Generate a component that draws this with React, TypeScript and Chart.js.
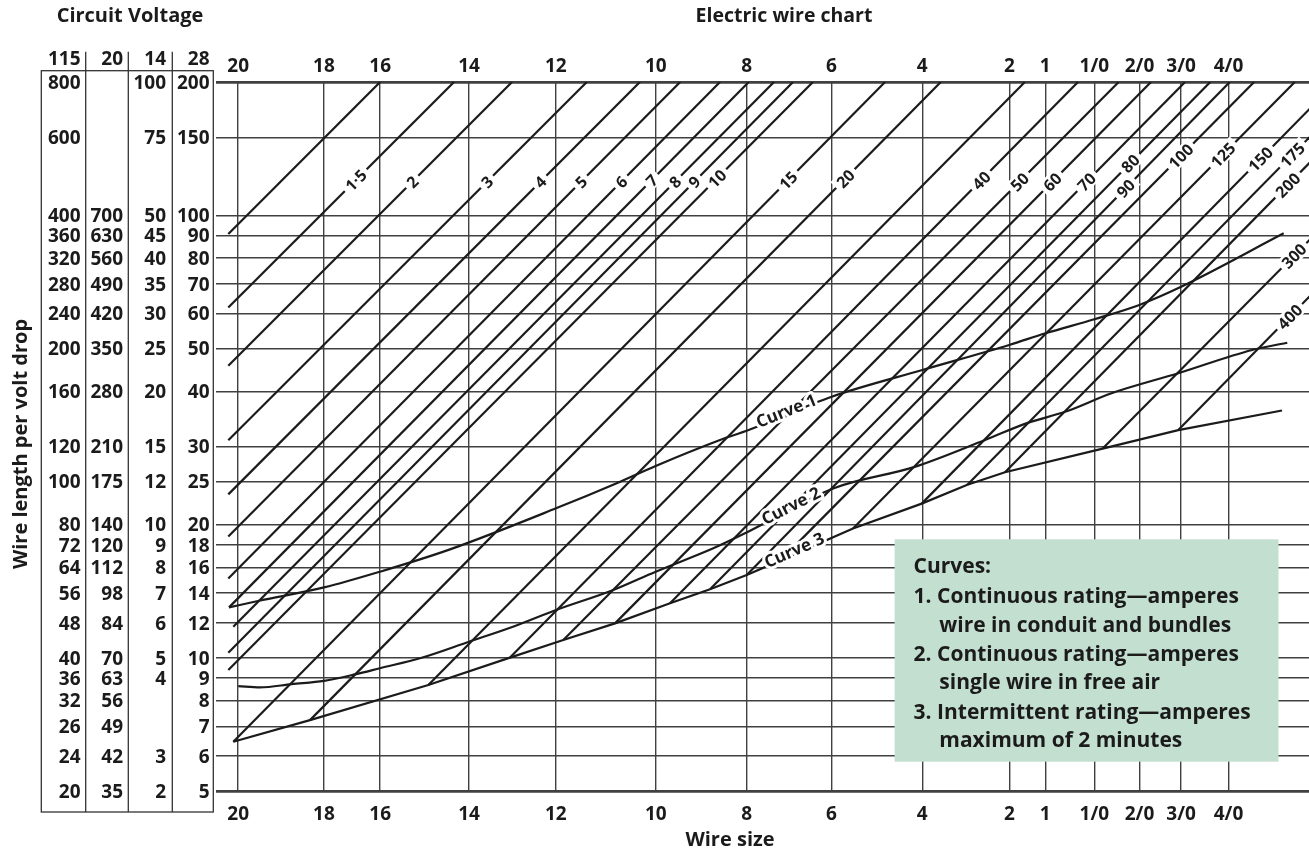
import React, { useEffect, useRef } from "react";
import { Chart, registerables } from "chart.js";

Chart.register(...registerables);

const FONT = '"Open Sans", "Noto Sans", "DejaVu Sans", sans-serif';
const INK = "#1b1b1b";
const GRID = "#404040";

// ---- axis data ----
const wireLabels = ["20", "18", "16", "14", "12", "10", "8", "6", "4", "2", "1", "1/0", "2/0", "3/0", "4/0"];
// relative conductance (centi-decades from #20)
const wirePositions = [0, 19.4, 32.1, 52.2, 71.8, 94.4, 114.9, 134.1, 154.6, 174.3, 182.4, 193.5, 203.7, 213.1, 223.8];

// wire length per volt drop, 28 V column (also y ticks)
const lengthTicks = [200, 150, 100, 90, 80, 70, 60, 50, 40, 30, 25, 20, 18, 16, 14, 12, 10, 9, 8, 7, 6, 5];
const volt115 = ["800", "600", "400", "360", "320", "280", "240", "200", "160", "120", "100", "80", "72", "64", "56", "48", "40", "36", "32", "26", "24", "20"];
const volt20 = ["", "", "700", "630", "560", "490", "420", "350", "280", "210", "175", "140", "120", "112", "98", "84", "70", "63", "56", "49", "42", "35"];
const volt14 = ["100", "75", "50", "45", "40", "35", "30", "25", "20", "15", "12", "10", "9", "8", "7", "6", "5", "4", "", "", "3", "2"];
const volt28 = lengthTicks.map(String);
const voltHeaders = ["115", "20", "14", "28"];

// ---- ampere lines ----
const ampLabels = ["", "1·5", "2", "3", "4", "5", "6", "7", "8", "9", "10", "15", "20", "", "40", "50", "60", "70", "80", "90", "100", "125", "150", "175", "200", "300", "400"];
const ampStartX = [-2.22, -2.22, -2.22, -2.22, -2.22, -2.22, -2.22, -2.06, -1.09, -2.22, -2.22, -1.09, 16.24, 42.98, 61.44, 73.48, 85.17, 97.6, 106.64, 114.93, 122.57, 138.95, 154.48, 164.8, 173.3, 195.38, 212.46];
const ampStartY = [90.7, 61.9, 45.7, 31.0, 23.4, 18.8, 15.1, 13.0, 11.75, 10.26, 9.38, 6.46, 7.23, 8.68, 10.01, 10.97, 11.96, 13.28, 14.28, 15.38, 16.6, 19.6, 22.3, 24.6, 26.25, 29.7, 32.7];
const ampTopX = [32.1, 48.8, 61.9, 78.8, 90.8, 99.9, 108.9, 115.4, 121.1, 125.4, 129.9, 146.2, 158.8, 177.8, 189.8, 199.0, 206.3, 214.0, 219.7, 224.1, 229.6, 238.8, 248.1, 254.4, 260.1, 277.5, 289.7];
const ampLabelY = [0, 120, 119, 119, 119, 119, 119, 120, 119, 119, 121, 120, 121, 0, 120, 119, 119, 119, 131, 115, 136, 137, 134, 137, 117, 81, 59];

// ---- rating curves ----
const curve1X = [-2.06, 4.49, 19.41, 32.06, 47.56, 71.83, 85.55, 94.36, 108.9, 115.36, 134.14, 154.63, 174.25, 182.43, 193.48, 203.65, 213.1, 236.28];
const curve1Y = [13.0, 13.44, 14.42, 15.65, 17.53, 21.76, 24.8, 27.13, 31.05, 32.7, 38.9, 44.7, 50.9, 54.1, 58.2, 62.7, 68.9, 91.0];
const curve2X = [0.04, 4.94, 12.11, 19.41, 26.41, 32.06, 41.48, 52.17, 62.57, 71.83, 84.78, 94.36, 107.38, 114.93, 134.61, 152.89, 168.78, 178.27, 187.04, 197.37, 212.46, 229.14, 237.09];
const curve2Y = [8.63, 8.57, 8.72, 8.87, 9.17, 9.47, 10.0, 10.87, 11.8, 12.82, 14.23, 15.65, 17.68, 19.2, 24.16, 27.0, 31.05, 33.9, 36.0, 39.6, 43.95, 49.6, 51.5];
const curve3X = [-1.09, 16.24, 42.98, 61.44, 73.48, 85.17, 97.6, 106.64, 114.93, 122.57, 138.95, 154.48, 164.8, 173.3, 195.38, 212.46, 235.9];
const curve3Y = [6.46, 7.23, 8.68, 10.01, 10.97, 11.96, 13.28, 14.28, 15.38, 16.6, 19.6, 22.3, 24.6, 26.25, 29.7, 32.7, 36.2];
const curveNames = ["Curve 1", "Curve 2", "Curve 3"];
const curveLabelX = [124.2, 125.3, 126.0];

const legendLines = [
  "Curves:",
  "1. Continuous rating—amperes",
  "wire in conduit and bundles",
  "2. Continuous rating—amperes",
  "single wire in free air",
  "3. Intermittent rating—amperes",
  "maximum of 2 minutes",
];
const legendIndent = [0, 0, 1, 0, 1, 0, 1];

function toPts(xs: number[], ys: number[]) {
  return xs.map((x, i) => ({ x, y: ys[i] }));
}

function onPolyline(chart: any, xs: number[], ys: number[], xv: number) {
  const sx = chart.scales.x;
  const sy = chart.scales.y;
  const px = xs.map((v) => sx.getPixelForValue(v));
  const py = ys.map((v) => sy.getPixelForValue(v));
  const tx = sx.getPixelForValue(xv);
  let i = 0;
  while (i < px.length - 2 && px[i + 1] < tx) i++;
  const t = (tx - px[i]) / (px[i + 1] - px[i]);
  return {
    x: tx,
    y: py[i] + t * (py[i + 1] - py[i]),
    a: Math.atan2(py[i + 1] - py[i], px[i + 1] - px[i]),
  };
}

const overlayPlugin = {
  id: "wireOverlay",
  beforeDraw(chart: any) {
    const ctx = chart.ctx;
    ctx.save();
    ctx.fillStyle = "#ffffff";
    ctx.fillRect(0, 0, chart.width, chart.height);
    ctx.restore();
  },
  afterDatasetsDraw(chart: any) {
    const ctx = chart.ctx;
    const sx = chart.scales.x;
    const sy = chart.scales.y;

    // labels on ampere lines
    ctx.save();
    ctx.font = `bold 16px ${FONT}`;
    ctx.textAlign = "center";
    ctx.textBaseline = "alphabetic";
    ampLabels.forEach((lab, i) => {
      if (!lab) return;
      const x0 = sx.getPixelForValue(ampStartX[i]);
      const y0 = sy.getPixelForValue(ampStartY[i]);
      const x1 = sx.getPixelForValue(ampTopX[i]);
      const y1 = sy.getPixelForValue(200);
      const py = sy.getPixelForValue(ampLabelY[i]);
      const t = (py - y0) / (y1 - y0);
      const px = x0 + t * (x1 - x0);
      const ang = Math.atan2(y1 - y0, x1 - x0);
      const w = ctx.measureText(lab).width;
      ctx.save();
      ctx.translate(px, py);
      ctx.rotate(ang);
      ctx.fillStyle = "#ffffff";
      ctx.fillRect(-w / 2 - 4, -8, w + 8, 16);
      ctx.fillStyle = INK;
      ctx.fillText(lab, 0, 6);
      ctx.restore();
    });
    ctx.restore();

    // curve labels
    const cx = [curve1X, curve2X, curve3X];
    const cy = [curve1Y, curve2Y, curve3Y];
    ctx.save();
    ctx.font = `bold 17px ${FONT}`;
    ctx.textAlign = "center";
    ctx.textBaseline = "alphabetic";
    curveNames.forEach((name, k) => {
      const p = onPolyline(chart, cx[k], cy[k], curveLabelX[k]);
      ctx.save();
      ctx.translate(p.x, p.y);
      ctx.rotate(p.a);
      ctx.lineJoin = "round";
      ctx.lineWidth = 6;
      ctx.strokeStyle = "#ffffff";
      ctx.strokeText(name, 0, 2);
      ctx.fillStyle = INK;
      ctx.fillText(name, 0, 2);
      ctx.restore();
    });
    ctx.restore();

    // legend box
    ctx.save();
    ctx.fillStyle = "#c3dfd0";
    ctx.fillRect(894.6, 539.3, 383.9, 222.4);
    ctx.fillStyle = INK;
    ctx.font = `bold 21px ${FONT}`;
    ctx.textAlign = "left";
    ctx.textBaseline = "alphabetic";
    const baselines = [573.3, 602.7, 631.7, 660.7, 689.3, 719, 747.3];
    legendLines.forEach((s, i) => {
      ctx.fillText(s, legendIndent[i] ? 939.3 : 913.6, baselines[i]);
    });
    ctx.restore();
  },
  afterDraw(chart: any) {
    const ctx = chart.ctx;
    const sx = chart.scales.x;
    const sy = chart.scales.y;
    ctx.save();
    ctx.fillStyle = INK;

    // wire size tick labels (top & bottom)
    ctx.font = `bold 19px ${FONT}`;
    ctx.textAlign = "center";
    ctx.textBaseline = "alphabetic";
    wireLabels.forEach((lab, i) => {
      const x = sx.getPixelForValue(wirePositions[i]);
      ctx.fillText(lab, x, 65.5 + 6.8);
      ctx.fillText(lab, x, 813.3 + 6.8);
    });

    // voltage table
    ctx.strokeStyle = "#333333";
    ctx.lineWidth = 1.3;
    ctx.strokeRect(41.3, 70.7, 172, 741.3);
    [85.7, 128.3, 172.3].forEach((x) => {
      ctx.beginPath();
      ctx.moveTo(x, 51.7);
      ctx.lineTo(x, 812);
      ctx.stroke();
    });
    const colRight = [80.5, 123, 166, 209.5];
    const cols = [volt115, volt20, volt14, volt28];
    ctx.textAlign = "right";
    voltHeaders.forEach((h, c) => ctx.fillText(h, colRight[c], 58.3 + 6.8));
    lengthTicks.forEach((v, r) => {
      const y = sy.getPixelForValue(v);
      cols.forEach((col, c) => {
        if (col[r]) ctx.fillText(col[r], colRight[c], y + 6.8);
      });
    });

    // titles
    ctx.font = `bold 20px ${FONT}`;
    ctx.textAlign = "center";
    ctx.fillText("Circuit Voltage", 130, 22.3);
    ctx.fillText("Wire size", 730, 846);
    ctx.save();
    ctx.translate(27, 444);
    ctx.rotate(-Math.PI / 2);
    ctx.fillText("Wire length per volt drop", 0, 0);
    ctx.restore();
    ctx.font = `bold 19.5px ${FONT}`;
    ctx.fillText("Electric wire chart", 784, 22.3);
    ctx.restore();
  },
};

export default function App() {
  const ref = useRef<HTMLCanvasElement>(null);
  useEffect(() => {
    const canvas = ref.current;
    if (!canvas) return;
    const lineStyle = { borderColor: INK, borderWidth: 2.2, pointRadius: 0, tension: 0, fill: false };
    const datasets: any[] = ampLabels.map((lab, i) => ({
      label: `${lab || "line"} A`,
      data: [
        { x: ampStartX[i], y: ampStartY[i] },
        { x: ampTopX[i], y: 200 },
      ],
      ...lineStyle,
    }));
    datasets.push({ label: "Curve 1", data: toPts(curve1X, curve1Y), ...lineStyle, cubicInterpolationMode: "monotone" });
    datasets.push({ label: "Curve 2", data: toPts(curve2X, curve2Y), ...lineStyle, cubicInterpolationMode: "monotone" });
    datasets.push({ label: "Curve 3", data: toPts(curve3X, curve3Y), ...lineStyle });

    const chart = new Chart(canvas, {
      type: "line",
      data: { datasets },
      options: {
        responsive: false,
        devicePixelRatio: 1,
        animation: false,
        events: [],
        layout: { padding: { left: 216, right: 0, top: 82, bottom: 60 } },
        plugins: { legend: { display: false }, tooltip: { enabled: false } },
        scales: {
          x: {
            type: "linear",
            min: -5,
            max: 242,
            border: { display: false },
            ticks: { display: false },
            grid: { color: GRID, lineWidth: 1.4, drawTicks: false },
            afterBuildTicks: (s: any) => {
              s.ticks = wirePositions.map((v) => ({ value: v }));
            },
          },
          y: {
            type: "logarithmic",
            min: 5,
            max: 200,
            border: { display: false },
            ticks: { display: false },
            grid: {
              color: GRID,
              drawTicks: false,
              lineWidth: (c: any) => (c.tick && (c.tick.value === 200 || c.tick.value === 5) ? 2.8 : 1.4),
            },
            afterBuildTicks: (s: any) => {
              s.ticks = lengthTicks.map((v) => ({ value: v }));
            },
          },
        },
      } as any,
      plugins: [overlayPlugin],
    });
    return () => chart.destroy();
  }, []);
  return (
    <div style={{ position: "absolute", left: 0, top: 0, width: 1309, height: 851, background: "#fff" }}>
      <canvas ref={ref} width={1309} height={851} style={{ display: "block", width: 1309, height: 851 }} />
    </div>
  );
}
